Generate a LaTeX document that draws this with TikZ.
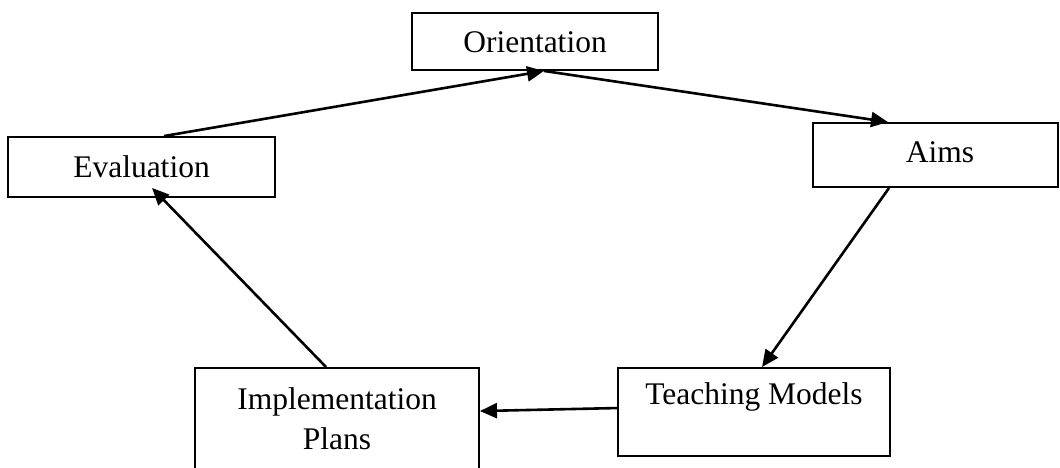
\documentclass[tikz,border=0pt]{standalone}
\usepackage{fontspec}
\setmainfont{Liberation Serif}
\usetikzlibrary{arrows.meta}

\begin{document}
\begin{tikzpicture}[x=1pt,y=-1pt,
  stagebox/.style={draw=black,line width=1.9pt,fill=white,inner sep=0pt,
    minimum width=#1},
  stagetext/.style={font=\fontsize{31.5}{40}\selectfont,align=center,inner sep=0pt},
  flow/.style={line width=2.6pt,-{Triangle[length=17pt,width=15pt]}}]
  \useasboundingbox[fill=white] (0,0) rectangle (1060,468);

  % stage boxes
  \node[stagebox=246pt,minimum height=57pt] (or)   at (535,41.5)  {};
  \node[stagebox=267pt,minimum height=60pt] (ev)   at (141.5,167) {};
  \node[stagebox=245pt,minimum height=64pt] (aims) at (935.5,155) {};
  \node[stagebox=272pt,minimum height=88pt] (tm)   at (754,412)   {};
  \node[stagebox=284pt,minimum height=162pt] (imp) at (337,449)   {};

  % stage labels
  \node[stagetext] (ortext)   at (535,42)  {Orientation};
  \node[stagetext] (evtext)   at (141.5,167) {Evaluation};
  \node[stagetext] (aimstext) at (940,152) {Aims};
  \node[stagetext] (tmtext)   at (754,397) {Teaching Models};
  \node[stagetext] (imptext)  at (337,419) {Implementation\\Plans};

  % cycle of arrows
  \draw[flow] ([xshift=157pt]ev.north west) -- ([xshift=133pt]or.south west);
  \draw[flow] ([xshift=133pt]or.south west) -- ([xshift=76pt]aims.north west);
  \draw[flow] ([xshift=77pt]aims.south west) -- ([xshift=145pt]tm.north west);
  \draw[flow] ([yshift=-41pt]tm.north west) -- ([yshift=-44pt]imp.north east);
  \draw[flow] ([xshift=132pt]imp.north west) -- ([xshift=145pt,yshift=10pt]ev.south west);
\end{tikzpicture}
\end{document}
